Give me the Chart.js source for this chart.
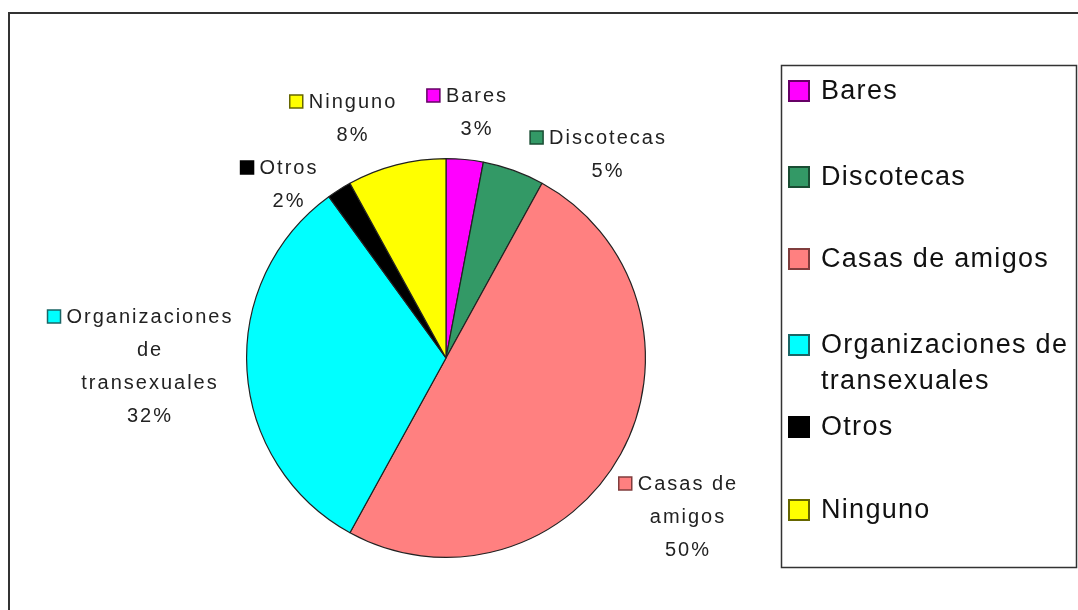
<!DOCTYPE html>
<html><head><meta charset="utf-8">
<script src="https://cdn.jsdelivr.net/npm/chart.js@4"></script>
<style>html,body{margin:0;padding:0;background:#fff}#wrap{width:1078px;height:610px;position:relative}</style>
</head><body><div id="wrap"><canvas id="c"></canvas></div>
<script>
// ---- data ----
const categories = ["Bares", "Discotecas", "Casas de amigos", "Organizaciones de transexuales", "Otros", "Ninguno"];
const values = [3, 5, 50, 32, 2, 8];
const colors = ["#FF00FF", "#339966", "#FF8080", "#00FFFF", "#000000", "#FFFF00"];
const markerBorders = ["#660066", "#1a4d33", "#803d3d", "#1a6666", "#000000", "#666600"];
const pieLabelLines = [["Bares"], ["Discotecas"], ["Casas de", "amigos"], ["Organizaciones", "de", "transexuales"], ["Otros"], ["Ninguno"]];
const legendLines = [["Bares"], ["Discotecas"], ["Casas de amigos"], ["Organizaciones de", "transexuales"], ["Otros"], ["Ninguno"]];

// ---- layout (label placement only) ----
const pieLabelPos = [[477, 96], [608, 138], [688, 484], [150, 317], [289, 168], [353, 102]];
const legendRowY = [91, 177, 259, 345, 427, 510];
const FONT = '"Liberation Sans", Arial, sans-serif';

const total = values.reduce((a, b) => a + b, 0);

function setSpacing(ctx, s) { if ('letterSpacing' in ctx) ctx.letterSpacing = s + 'px'; }

const decor = {
  id: 'decor',
  afterDraw(chart) {
    const ctx = chart.ctx;
    ctx.save();
    // outer frame
    ctx.strokeStyle = '#333';
    ctx.lineWidth = 2;
    ctx.strokeRect(9, 13, 1200, 800);
    // legend box
    ctx.lineWidth = 1.5;
    ctx.strokeRect(781.5, 65.5, 295, 502);
    // legend entries
    ctx.textBaseline = 'middle';
    ctx.textAlign = 'left';
    ctx.font = '27px ' + FONT;
    setSpacing(ctx, 1.3);
    legendLines.forEach((lines, i) => {
      const y = legendRowY[i];
      ctx.fillStyle = colors[i];
      ctx.fillRect(789, y - 10, 20, 20);
      ctx.strokeStyle = markerBorders[i];
      ctx.lineWidth = 2;
      ctx.strokeRect(789, y - 10, 20, 20);
      ctx.fillStyle = '#111';
      lines.forEach((t, k) => ctx.fillText(t, 821, y + k * 36 + 1));
    });
    // pie labels
    ctx.font = '20px ' + FONT;
    setSpacing(ctx, 2);
    ctx.textAlign = 'center';
    pieLabelLines.forEach((lines, i) => {
      const [cx, y0] = pieLabelPos[i];
      const all = lines.concat([Math.round(values[i] / total * 100) + '%']);
      all.forEach((t, k) => {
        const y = y0 + k * 33;
        ctx.fillStyle = '#222';
        ctx.fillText(t, cx, y);
        if (k === 0) {
          const w = ctx.measureText(t).width;
          const left = cx - w / 2;
          ctx.fillStyle = colors[i];
          ctx.fillRect(left - 19, y - 7, 13, 13);
          ctx.strokeStyle = markerBorders[i];
          ctx.lineWidth = 1.5;
          ctx.strokeRect(left - 19, y - 7, 13, 13);
        }
      });
    });
    ctx.restore();
  }
};

new Chart(document.getElementById('c'), {
  type: 'pie',
  data: {
    labels: categories,
    datasets: [{
      data: values,
      backgroundColor: colors,
      borderColor: '#222',
      borderWidth: 1.2
    }]
  },
  options: {
    responsive: true,
    maintainAspectRatio: false,
    animation: false,
    layout: { padding: { left: 246, right: 432, top: 157, bottom: 51 } },
    plugins: { legend: { display: false }, tooltip: { enabled: false } }
  },
  plugins: [decor]
});
</script>
</body></html>
